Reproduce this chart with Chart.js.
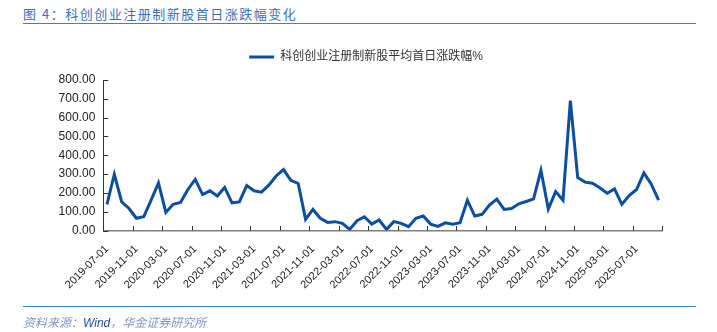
<!DOCTYPE html>
<html>
<head>
<meta charset="utf-8">
<script src="https://cdn.jsdelivr.net/npm/chart.js@4"></script>
<style>
  body { margin: 0; background: #fff; }
  #wrap { position: relative; width: 717px; height: 332px; overflow: hidden; }
  #chart { position: absolute; left: 0; top: 0; }
  #titulo { position: absolute; left: 23px; top: 6px; font: 13px/15px "Noto Sans CJK SC", sans-serif; color: #3a70b8; letter-spacing: 1.5px; white-space: nowrap; }
  .regla { position: absolute; left: 23px; width: 673px; height: 0; border-top: 1.5px solid #2f86d2; }
  #fuente { position: absolute; left: 23px; top: 314px; font: italic 12px/15px "Noto Sans CJK SC", sans-serif; color: #7b98c6; white-space: nowrap; }
  #fuente span { font-family: Arial, "Liberation Sans", sans-serif; color: #1f4e9e; }
</style>
</head>
<body>
<div id="wrap">
  <div id="titulo">图 4：科创创业注册制新股首日涨跌幅变化</div>
  <div class="regla" style="top:23px"></div>
  <canvas id="chart" width="717" height="332"></canvas>
  <div class="regla" style="top:306px"></div>
  <div id="fuente">资料来源：<span>Wind</span>，华金证券研究所</div>
</div>
<script>
// ========== DATOS ==========
const meses = [
  "2019-07-01","2019-08-01","2019-09-01","2019-10-01","2019-11-01","2019-12-01",
  "2020-01-01","2020-02-01","2020-03-01","2020-04-01","2020-05-01","2020-06-01",
  "2020-07-01","2020-08-01","2020-09-01","2020-10-01","2020-11-01","2020-12-01",
  "2021-01-01","2021-02-01","2021-03-01","2021-04-01","2021-05-01","2021-06-01",
  "2021-07-01","2021-08-01","2021-09-01","2021-10-01","2021-11-01","2021-12-01",
  "2022-01-01","2022-02-01","2022-03-01","2022-04-01","2022-05-01","2022-06-01",
  "2022-07-01","2022-08-01","2022-09-01","2022-10-01","2022-11-01","2022-12-01",
  "2023-01-01","2023-02-01","2023-03-01","2023-04-01","2023-05-01","2023-06-01",
  "2023-07-01","2023-08-01","2023-09-01","2023-10-01","2023-11-01","2023-12-01",
  "2024-01-01","2024-02-01","2024-03-01","2024-04-01","2024-05-01","2024-06-01",
  "2024-07-01","2024-08-01","2024-09-01","2024-10-01","2024-11-01","2024-12-01",
  "2025-01-01","2025-02-01","2025-03-01","2025-04-01","2025-05-01","2025-06-01",
  "2025-07-01","2025-08-01","2025-09-01","2025-10-01"
];

const promedioPrimerDia = [
  139, 299, 152, 117, 65, 73, 161, 253, 96, 139, 149, 218, 272, 191, 211, 184,
  229, 147, 152, 239, 211, 204, 241, 290, 324, 267, 250, 59, 112, 65, 43, 47,
  38, 6, 52, 73, 34, 56, 6, 47, 38, 20, 65, 77, 34, 22, 41, 34,
  41, 161, 77, 86, 135, 167, 112, 117, 142, 154, 168, 320, 114, 207, 161, 690,
  281, 257, 251, 227, 198, 221, 139, 186, 218, 306, 246, 161
];

const nombreSerie = "科创创业注册制新股平均首日涨跌幅%";
const yMin = 0, yMax = 800, yPaso = 100;
const cadaEtiqueta = 4;

const fuente = "Arial, 'Liberation Sans', 'Noto Sans CJK SC', sans-serif";

// ticks hacia adentro, como en el original
const ticksInternos = {
  id: 'ticksInternos',
  afterDatasetsDraw(chart) {
    const { ctx, chartArea: a, scales: { x, y } } = chart;
    ctx.save();
    ctx.strokeStyle = '#333';
    ctx.lineWidth = 1;
    ctx.beginPath();
    y.ticks.forEach((t, i) => {
      const py = Math.round(y.getPixelForTick(i)) + 0.5;
      ctx.moveTo(a.left, py);
      ctx.lineTo(a.left + 5, py);
    });
    const medio = (x.getPixelForValue(1) - x.getPixelForValue(0)) / 2;
    for (let i = cadaEtiqueta; i <= meses.length; i += cadaEtiqueta) {
      const px = Math.round(x.getPixelForValue(i) - medio) + 0.5;
      ctx.moveTo(px, a.bottom);
      ctx.lineTo(px, a.bottom - 4.5);
    }
    ctx.stroke();
    ctx.restore();
  }
};

new Chart(document.getElementById("chart"), {
  type: 'line',
  data: {
    labels: meses,
    datasets: [{
      label: nombreSerie,
      data: promedioPrimerDia,
      borderColor: '#0b4ea2',
      backgroundColor: '#0b4ea2',
      borderWidth: 3,
      pointRadius: 0,
      tension: 0,
      fill: false
    }]
  },
  options: {
    responsive: false,
    animation: false,
    layout: { padding: { left: 50, right: 35, top: 41, bottom: 0 } },
    plugins: {
      legend: {
        position: 'top',
        weight: 1000,
        labels: {
          usePointStyle: true,
          pointStyle: 'line',
          pointStyleWidth: 25,
          padding: 10,
          color: '#333',
          font: { size: 12, family: fuente }
        }
      },
      title: { display: true, text: '', weight: 500, padding: 0, font: { size: 7, lineHeight: 1 } },
      tooltip: { enabled: false }
    },
    scales: {
      x: {
        offset: true,
        grid: { display: false, drawTicks: false },
        border: { display: true, color: '#7f7f7f', width: 1.5 },
        ticks: {
          autoSkip: false,
          maxRotation: 45,
          minRotation: 45,
          padding: 12,
          color: '#222',
          font: { size: 11, family: fuente },
          callback: (v, i) => (i % cadaEtiqueta === 0 ? meses[i] : '')
        },
        afterFit(s) { s.height = 101.5; }
      },
      y: {
        min: yMin,
        max: yMax,
        grid: { display: false, drawTicks: false },
        border: { display: true, color: '#333', width: 1 },
        ticks: {
          stepSize: yPaso,
          padding: 8,
          color: '#222',
          font: { size: 12, family: fuente },
          callback: v => v.toFixed(2)
        },
        afterFit(s) { s.width = 53.3; }
      },
      derecha: {
        position: 'right',
        display: true,
        grid: { display: false, drawTicks: false },
        border: { display: false },
        ticks: { display: false },
        afterFit(s) { s.width = 19.7; }
      }
    }
  },
  plugins: [ticksInternos]
});
</script>
</body>
</html>
